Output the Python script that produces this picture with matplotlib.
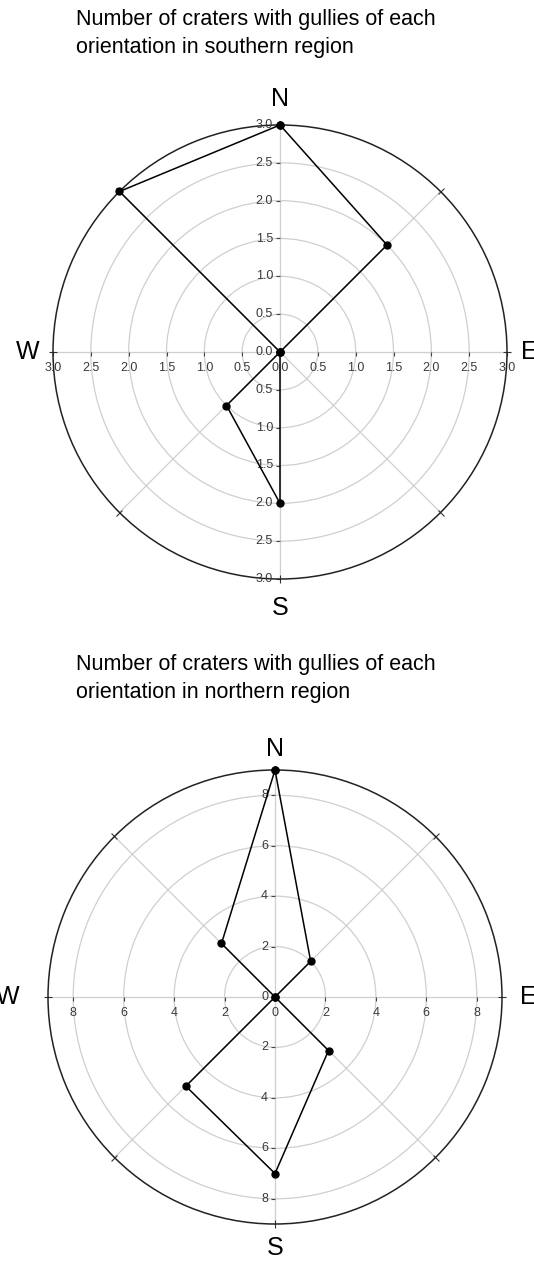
import numpy as np
from matplotlib import pyplot as plt

plt.rcParams['font.family'] = ['Liberation Sans', 'DejaVu Sans']

# compass directions, clockwise from north
directions = ['N', 'NE', 'E', 'SE', 'S', 'SW', 'W', 'NW']
angles_deg = [0, 45, 90, 135, 180, 225, 270, 315]

south_counts = [3, 2, 0, 0, 2, 1, 0, 3]
north_counts = [9, 2, 0, 3, 7, 5, 0, 3]

south_title = 'Number of craters with gullies of each\norientation in southern region'
north_title = 'Number of craters with gullies of each\norientation in northern region'

south_rticks = [0.0, 0.5, 1.0, 1.5, 2.0, 2.5, 3.0]
south_rlabels = ['0.0', '0.5', '1.0', '1.5', '2.0', '2.5', '3.0']
south_rmax = 3.0

north_rticks = [0, 2, 4, 6, 8]
north_rlabels = ['0', '2', '4', '6', '8']
north_rmax = 9

W, H = 534, 1268
fig = plt.figure(figsize=(W / 100, H / 100), dpi=100)
PX = 72 / 100  # points per pixel


def rose(rect, counts, rticks, rlabels, rmax, gaps):
    ax = fig.add_axes(rect, projection='polar')
    ax.set_theta_zero_location('N')
    ax.set_theta_direction(-1)
    ax.set_ylim(0, rmax)

    th = np.radians(angles_deg)
    ax.set_xticks(th)
    ax.set_xticklabels([])
    grid_r = [r for r in rticks if 0 < r < rmax]
    ax.set_yticks(grid_r)
    ax.set_yticklabels([])
    ax.grid(color='#cfcfcf', lw=0.9)
    ax.spines['polar'].set_color('#222222')
    ax.spines['polar'].set_linewidth(1.1)

    # compass letters
    gn, ge, gs, gw = gaps
    card = dict(textcoords='offset points', fontsize=18, annotation_clip=False)
    ax.annotate('N', xy=(0, rmax), xytext=(0, gn * PX), ha='center', va='bottom', **card)
    ax.annotate('E', xy=(np.pi / 2, rmax), xytext=(ge * PX, 0), ha='left', va='center', **card)
    ax.annotate('S', xy=(np.pi, rmax), xytext=(0, -gs * PX), ha='center', va='top', **card)
    ax.annotate('W', xy=(3 * np.pi / 2, rmax), xytext=(-gw * PX, 0), ha='right', va='center', **card)

    # radial labels along the four cardinal axes
    lab_kw = dict(textcoords='offset points', fontsize=9, color='#3a3a3a')
    for r, lab in zip(rticks, rlabels):
        for t in (0, np.pi):
            if t == np.pi and r == 0:
                continue
            ax.annotate(lab, xy=(t, r), xytext=(-5, 0), ha='right', va='center', **lab_kw)
            ax.plot(t, r, marker=0, ms=3, color='#444444', mew=0.8, clip_on=False)
        for t in (np.pi / 2, 3 * np.pi / 2):
            if t == 3 * np.pi / 2 and r == 0:
                continue
            ax.annotate(lab, xy=(t, r), xytext=(0, -7), ha='center', va='top', **lab_kw)
            ax.plot(t, r, marker=3, ms=3, color='#444444', mew=0.8, clip_on=False)

    # small ticks crossing the outer ring
    for a in angles_deg:
        ax.plot(np.radians(a), rmax, marker=(2, 0, -a), ms=6, mew=0.8,
                color='#333333', clip_on=False)

    vals = list(counts) + [counts[0]]
    tt = list(th) + [th[0]]
    ax.plot(tt, vals, '-o', color='black', lw=1.1, ms=5, clip_on=False, zorder=5)
    return ax


ax1 = rose([53 / W, 1 - 579 / H, 454 / W, 454 / H],
           south_counts, south_rticks, south_rlabels, south_rmax, (14, 14, 17, 13))
ax2 = rose([48 / W, 1 - 1224 / H, 454 / W, 454 / H],
           north_counts, north_rticks, north_rlabels, north_rmax, (9, 18, 12, 28))

fig.text(76 / W, 1 - 9 / H, south_title, ha='left', va='top', fontsize=15.5, linespacing=1.42)
fig.text(76 / W, 1 - 654 / H, north_title, ha='left', va='top', fontsize=15.5, linespacing=1.42)

fig.savefig('out.png', dpi=100, facecolor='white')
